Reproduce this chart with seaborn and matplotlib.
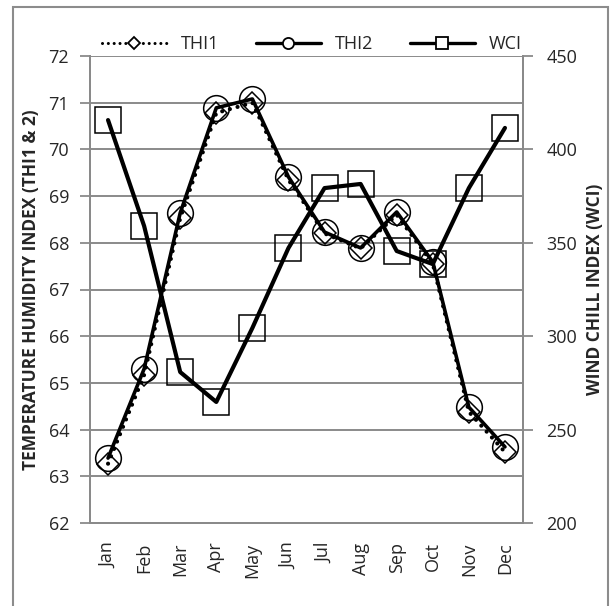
import matplotlib
matplotlib.use("Agg")
import matplotlib.pyplot as plt
from matplotlib.patches import Rectangle
from matplotlib.lines import Line2D
import numpy as np
import pandas as pd
import seaborn as sns

months = ["Jan", "Feb", "Mar", "Apr", "May", "Jun",
          "Jul", "Aug", "Sep", "Oct", "Nov", "Dec"]
thi1 = [63.27, 65.17, 68.53, 70.78, 71.00, 69.35, 68.20, 67.88, 68.60, 67.55, 64.38, 63.52]
thi2 = [63.39, 65.30, 68.64, 70.89, 71.08, 69.41, 68.23, 67.89, 68.66, 67.59, 64.48, 63.63]
wci = [415.7, 359.0, 280.8, 264.8, 304.4, 347.2, 379.3, 381.5, 345.6, 338.6, 379.3, 411.5]

left_ticks = list(range(62, 73))
right_ticks = [200, 250, 300, 350, 400, 450]

df = pd.DataFrame({"pos": np.arange(len(months)), "month": months,
                   "THI1": thi1, "THI2": thi2, "WCI": wci})

sns.set_style("white")
plt.rcParams["font.family"] = ["Open Sans", "DejaVu Sans"]

GRID = "#8a8a8a"
fig = plt.figure(figsize=(6.14, 6.06), dpi=100)
ax = fig.add_axes([90 / 614, 1 - 523 / 606, 433 / 614, 467 / 606])
ax2 = ax.twinx()

# THI2: solid line with open circles
sns.lineplot(data=df, x="pos", y="THI2", ax=ax, color="black", lw=2.6,
             marker="o", markersize=18.5, markerfacecolor="none",
             markeredgecolor="black", markeredgewidth=1.1, zorder=3)
# THI1: round-dotted line with open diamonds
sns.lineplot(data=df, x="pos", y="THI1", ax=ax, color="black", lw=3.0,
             linestyle=(0, (0.01, 1.9)), dash_capstyle="round",
             marker="D", markersize=11, markerfacecolor="none",
             markeredgecolor="black", markeredgewidth=1.1, zorder=4)
# WCI on the secondary axis: thick solid line with open squares
sns.lineplot(data=df, x="pos", y="WCI", ax=ax2, color="black", lw=3.0,
             marker="s", markersize=19, markerfacecolor="none",
             markeredgecolor="black", markeredgewidth=1.1, zorder=3)

ax.set_xlim(-0.5, len(months) - 0.5)
ax.set_ylim(62, 72)
ax2.set_ylim(200, 450)
ax.set_yticks(left_ticks)
ax2.set_yticks(right_ticks)

# category labels at centers, tick marks at category boundaries
ax.set_xticks(np.arange(len(months)))
ax.set_xticklabels(months, rotation=90, fontsize=13)
ax.set_xticks(np.arange(-0.5, len(months)), minor=True)
ax.tick_params(axis="x", which="major", length=0, pad=14)
ax.tick_params(axis="x", which="minor", length=7, width=1.3, color=GRID, direction="out")
ax.tick_params(axis="y", length=7, width=1.3, color=GRID, direction="out",
               labelsize=13, pad=8, left=True)
ax2.tick_params(axis="y", length=7, width=1.3, color=GRID, direction="out",
                labelsize=13, pad=10, right=True)

ax.grid(axis="y", color=GRID, lw=1.4)
ax.grid(axis="x", visible=False)
ax2.grid(False)
ax.set_axisbelow(True)

for a in (ax, ax2):
    for s in a.spines.values():
        s.set_color(GRID)
        s.set_linewidth(1.4)
    a.spines["top"].set_visible(False)

ax.set_xlabel("")
ax.set_ylabel("TEMPERATURE HUMIDITY INDEX (THI1 & 2)", fontsize=12.5,
              fontweight="bold")
ax2.set_ylabel("WIND CHILL INDEX (WCI)", fontsize=12.5, fontweight="bold")
ax.yaxis.set_label_coords((40 - 90) / 433, 0.5)
ax2.yaxis.set_label_coords((586 - 90) / 433, 0.5)

handles = [
    Line2D([], [], color="black", lw=2.2, linestyle=(0, (0.01, 1.9)),
           dash_capstyle="round", marker="D", markersize=6,
           markerfacecolor="white", markeredgewidth=1.3),
    Line2D([], [], color="black", lw=2.4, marker="o", markersize=8,
           markerfacecolor="white", markeredgewidth=1.3),
    Line2D([], [], color="black", lw=2.4, marker="s", markersize=8,
           markerfacecolor="white", markeredgewidth=1.3),
]
fig.legend(handles, ["THI1", "THI2", "WCI"], loc="center",
           bbox_to_anchor=(312 / 614, 1 - 44 / 606), ncol=3, frameon=False,
           fontsize=13, handlelength=3.6, handletextpad=0.8, columnspacing=2.0)

fig.patches.append(Rectangle((13 / 614, -0.02), (608 - 13) / 614, 1.02 - 7 / 606,
                             transform=fig.transFigure, fill=False,
                             edgecolor="#8c8c8c", lw=1.5))

fig.savefig("out.png", dpi=100)
